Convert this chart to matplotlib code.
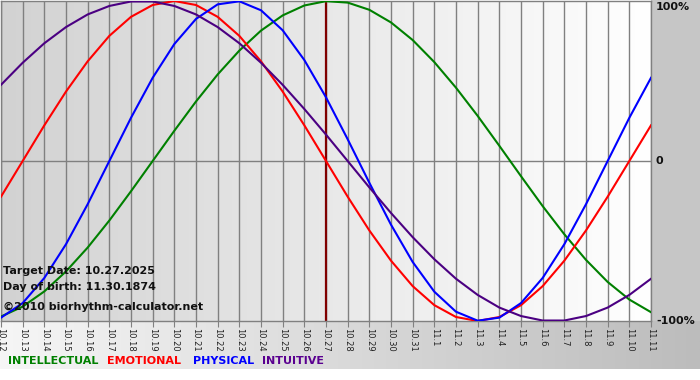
"""
Biorhythm chart: four cycles around the target date 10.27.2025
"""
import numpy as np
import matplotlib
matplotlib.use("Agg")
import matplotlib.pyplot as plt
from matplotlib.colors import LinearSegmentedColormap

day_labels = ["10.12", "10.13", "10.14", "10.15", "10.16", "10.17", "10.18", "10.19",
              "10.20", "10.21", "10.22", "10.23", "10.24", "10.25", "10.26", "10.27",
              "10.28", "10.29", "10.30", "10.31", "11.1", "11.2", "11.3", "11.4",
              "11.5", "11.6", "11.7", "11.8", "11.9", "11.10", "11.11"]
target_label = "10.27"

intellectual = [-0.972, -0.910, -0.815, -0.690, -0.541, -0.372, -0.189, 0.0, 0.189, 0.372,
                0.541, 0.690, 0.815, 0.910, 0.972, 0.999, 0.990, 0.945, 0.866, 0.756,
                0.618, 0.458, 0.282, 0.095, -0.095, -0.282, -0.458, -0.618, -0.756, -0.866,
                -0.945]
emotional = [-0.223, 0.0, 0.223, 0.434, 0.623, 0.782, 0.901, 0.975, 1.0, 0.975,
             0.901, 0.782, 0.623, 0.434, 0.223, 0.0, -0.223, -0.434, -0.623, -0.782,
             -0.901, -0.975, -1.0, -0.975, -0.901, -0.782, -0.623, -0.434, -0.223, 0.0,
             0.223]
physical = [-0.979, -0.888, -0.731, -0.520, -0.270, 0.0, 0.270, 0.520, 0.731, 0.888,
            0.979, 0.998, 0.942, 0.817, 0.631, 0.398, 0.136, -0.136, -0.398, -0.631,
            -0.817, -0.942, -0.998, -0.979, -0.888, -0.731, -0.520, -0.270, 0.0, 0.270,
            0.520]
intuitive = [0.476, 0.614, 0.736, 0.837, 0.916, 0.969, 0.997, 0.997, 0.969, 0.916,
             0.837, 0.736, 0.614, 0.476, 0.325, 0.165, 0.0, -0.165, -0.325, -0.476,
             -0.614, -0.736, -0.837, -0.916, -0.969, -0.997, -0.997, -0.969, -0.916, -0.837,
             -0.736]

series_names = ["INTELLECTUAL", "EMOTIONAL", "PHYSICAL", "INTUITIVE"]
series_colors = ["#008000", "#ff0000", "#0000ff", "#4b0082"]
legend_colors = ["#008000", "#ff0000", "#0000ff", "#5a0090"]

W, H = 700, 380
fig = plt.figure(figsize=(W / 100, H / 100), dpi=100)
fig.patch.set_facecolor("white")

# grey frame: right column and bottom strip with gradients
bg = fig.add_axes([0, 0, 1, 1], zorder=-5)
bg.set_xlim(0, W)
bg.set_ylim(H, 0)
bg.axis("off")
strip = LinearSegmentedColormap.from_list("strip", ["#f6f6f6", "#bcbcbc"])
bg.imshow(np.linspace(0, 1, 256).reshape(1, -1), cmap=strip, extent=[0, W, 369, 321],
          aspect="auto")
bg.add_patch(plt.Rectangle((651, 0), W - 651, 321, color="#c6c6c6", lw=0))

x0, x1, y0, y1 = 1, 651, 1, 321
ax = fig.add_axes([x0 / W, 1 - y1 / H, (x1 - x0) / W, (y1 - y0) / H])
ax.set_xlim(0, len(day_labels) - 1)
ax.set_ylim(-1, 1)
plot_bg = LinearSegmentedColormap.from_list("plotbg", ["#d2d2d2", "#ffffff"])
ax.imshow(np.linspace(0, 1, 256).reshape(1, -1), cmap=plot_bg,
          extent=[0, len(day_labels) - 1, -1, 1], aspect="auto", zorder=0)

days = np.arange(len(day_labels))
for d in days:
    ax.axvline(d, color="#808080", lw=1, zorder=1)
ax.axhline(0, color="#808080", lw=1, zorder=1)
ax.axvline(day_labels.index(target_label), color="#800000", lw=1.6, zorder=2)

for vals, col in zip([intellectual, emotional, physical, intuitive], series_colors):
    ax.plot(days, vals, color=col, lw=1.5, zorder=3, solid_joinstyle="round")

ax.set_xticks(days)
ax.set_xticklabels(day_labels, rotation=-90, fontsize=6, color="#222222")
ax.tick_params(axis="x", length=4, color="#808080", pad=1)
ax.set_yticks([])
for s in ax.spines.values():
    s.set_color("#808080")
    s.set_linewidth(1)

# right side percentage labels
for txt, yy in [("100%", 7), ("0", 161), ("-100%", 321)]:
    fig.text(656 / W, 1 - yy / H, txt, fontsize=8, fontweight="bold", color="#111111",
             va="center", ha="left")

# info text inside the plot
info = [("Target Date: 10.27.2025", 271), ("Day of birth: 11.30.1874", 287),
        ("\u00a92010 biorhythm-calculator.net", 307)]
for txt, yy in info:
    fig.text(3 / W, 1 - yy / H, txt, fontsize=8, fontweight="bold", color="#111111",
             va="center", ha="left")

# legend row
legend_x = [8, 107, 193, 262]
for name, col, lx in zip(series_names, legend_colors, legend_x):
    fig.text(lx / W, 1 - 361 / H, name, fontsize=8, fontweight="bold", color=col,
             va="center", ha="left")

fig.savefig("out.png", dpi=100)
